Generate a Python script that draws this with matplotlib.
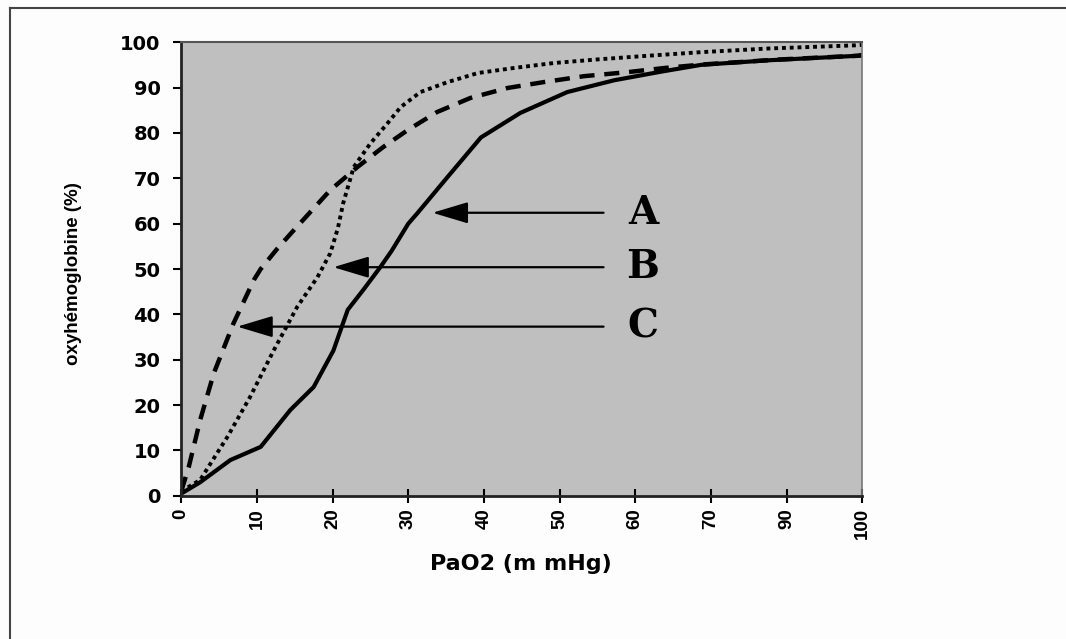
import matplotlib
matplotlib.use('Agg')
import matplotlib.pyplot as plt
from matplotlib.lines import Line2D

# x axis is a category axis: 10 evenly spaced labels (no 80)
tick_labels = ['0', '10', '20', '30', '40', '50', '60', '70', '90', '100']
y_ticks = [0, 10, 20, 30, 40, 50, 60, 70, 80, 90, 100]

# curve A (solid) - x given in tick-position units
a_x = [0, 0.25, 0.65, 1.05, 1.44, 1.75, 2.01, 2.2, 2.41, 2.63, 2.78, 3.0, 3.12,
       3.52, 3.96, 4.48, 5.1, 5.72, 6.34, 6.87, 7.75, 8.94, 9.0]
a_y = [0.5, 3, 7.9, 10.8, 18.9, 24, 32, 41, 45.5, 50.4, 54, 60, 62.3,
       70.3, 79, 84.4, 89, 91.6, 93.5, 95, 96, 97, 97.2]

# curve B (dotted)
b_x = [0, 0.25, 0.61, 0.91, 1.22, 1.53, 1.8, 1.97, 2.07, 2.14, 2.28, 2.5, 2.72,
       2.9, 3.16, 3.52, 3.92, 4.39, 4.92, 5.5, 6.16, 6.87, 7.75, 8.9, 9.0]
b_y = [1, 3.5, 13, 21.8, 32, 41.6, 48.2, 53.5, 59, 64.5, 72.5, 77.7, 82,
       85.7, 89, 91.2, 93.2, 94.3, 95.4, 96.2, 97, 97.8, 98.6, 99.3, 99.4]

# curve C (dashed)
c_x = [0, 0.1, 0.25, 0.43, 0.69, 0.96, 1.05, 1.27, 1.49, 1.97, 2.33, 2.67,
       2.99, 3.38, 3.82, 4.31, 4.79, 5.32, 5.9, 6.38, 6.9, 7.92, 8.94, 9.0]
c_y = [1, 6.4, 16.7, 27, 38, 47.6, 50, 54.5, 58.6, 67.4, 72.5, 76.9,
       80.6, 84.6, 87.7, 89.9, 91.2, 92.5, 93.4, 94.3, 95.1, 96.2, 97, 97.1]

# arrows: label, arrow tip (x, y), tail x
arrow_labels = ['A', 'B', 'C']
arrow_tip_x = [3.32, 2.01, 0.74]
arrow_y = [62.4, 50.4, 37.3]
arrow_tail_x = 5.58
label_x = 6.1

fig = plt.figure(figsize=(10.66, 6.39), dpi=100, facecolor='#fdfdfd')
ax = fig.add_axes([0.170, 0.224, 0.639, 0.710])
ax.set_facecolor('#bfbfbf')

ax.plot(a_x, a_y, color='black', lw=3, solid_capstyle='round', solid_joinstyle='round')
ax.plot(b_x, b_y, color='black', lw=2.8, dashes=(1, 1))
ax.plot(c_x, c_y, color='black', lw=3.2, dashes=(3.4, 2.2))

for lab, tx, ty in zip(arrow_labels, arrow_tip_x, arrow_y):
    ax.annotate('', xy=(tx, ty), xytext=(arrow_tail_x, ty),
                arrowprops=dict(arrowstyle='-|>,head_length=1.1,head_width=0.33',
                                color='black', lw=1.6, mutation_scale=20,
                                shrinkA=0, shrinkB=0))
    ax.text(label_x, ty, lab, ha='center', va='center', fontsize=28,
            fontweight='bold', family='DejaVu Serif')

ax.set_xlim(0, 9)
ax.set_ylim(0, 100)
ax.set_xticks(range(len(tick_labels)))
ax.set_xticklabels(tick_labels, rotation=90, fontsize=13.5, fontweight='bold',
                   family='Liberation Sans')
ax.set_yticks(y_ticks)
ax.set_yticklabels([str(v) for v in y_ticks], fontsize=14, fontweight='bold',
                   family='DejaVu Sans')
ax.tick_params(axis='x', direction='inout', length=10, width=1.5, pad=4)
ax.tick_params(axis='y', direction='out', length=6, width=1.5, pad=9)

for side in ['left', 'bottom']:
    ax.spines[side].set_linewidth(2)
    ax.spines[side].set_color('#222222')
ax.spines['top'].set_color('#555555')
ax.spines['top'].set_linewidth(1.5)
ax.spines['right'].set_color('#777777')
ax.spines['right'].set_linewidth(1.2)

ax.set_xlabel('PaO2 (m mHg)', fontsize=16, fontweight='bold', family='DejaVu Sans')
ax.xaxis.set_label_coords(0.498, -0.128)
ax.xaxis.label.set_va('top')
ax.set_ylabel('oxyhémoglobine (%)', fontsize=13.5, fontweight='bold',
              family='Liberation Sans')
ax.yaxis.set_label_coords(-0.145, 0.49)

# page frame (top and left edges)
fig.add_artist(Line2D([10 / 1066, 1], [1 - 8 / 639, 1 - 8 / 639],
                      color='#444444', lw=1.5, transform=fig.transFigure))
fig.add_artist(Line2D([10 / 1066, 10 / 1066], [0, 1 - 8 / 639],
                      color='#444444', lw=1.5, transform=fig.transFigure))

fig.savefig('out.png', dpi=100, facecolor=fig.get_facecolor())
